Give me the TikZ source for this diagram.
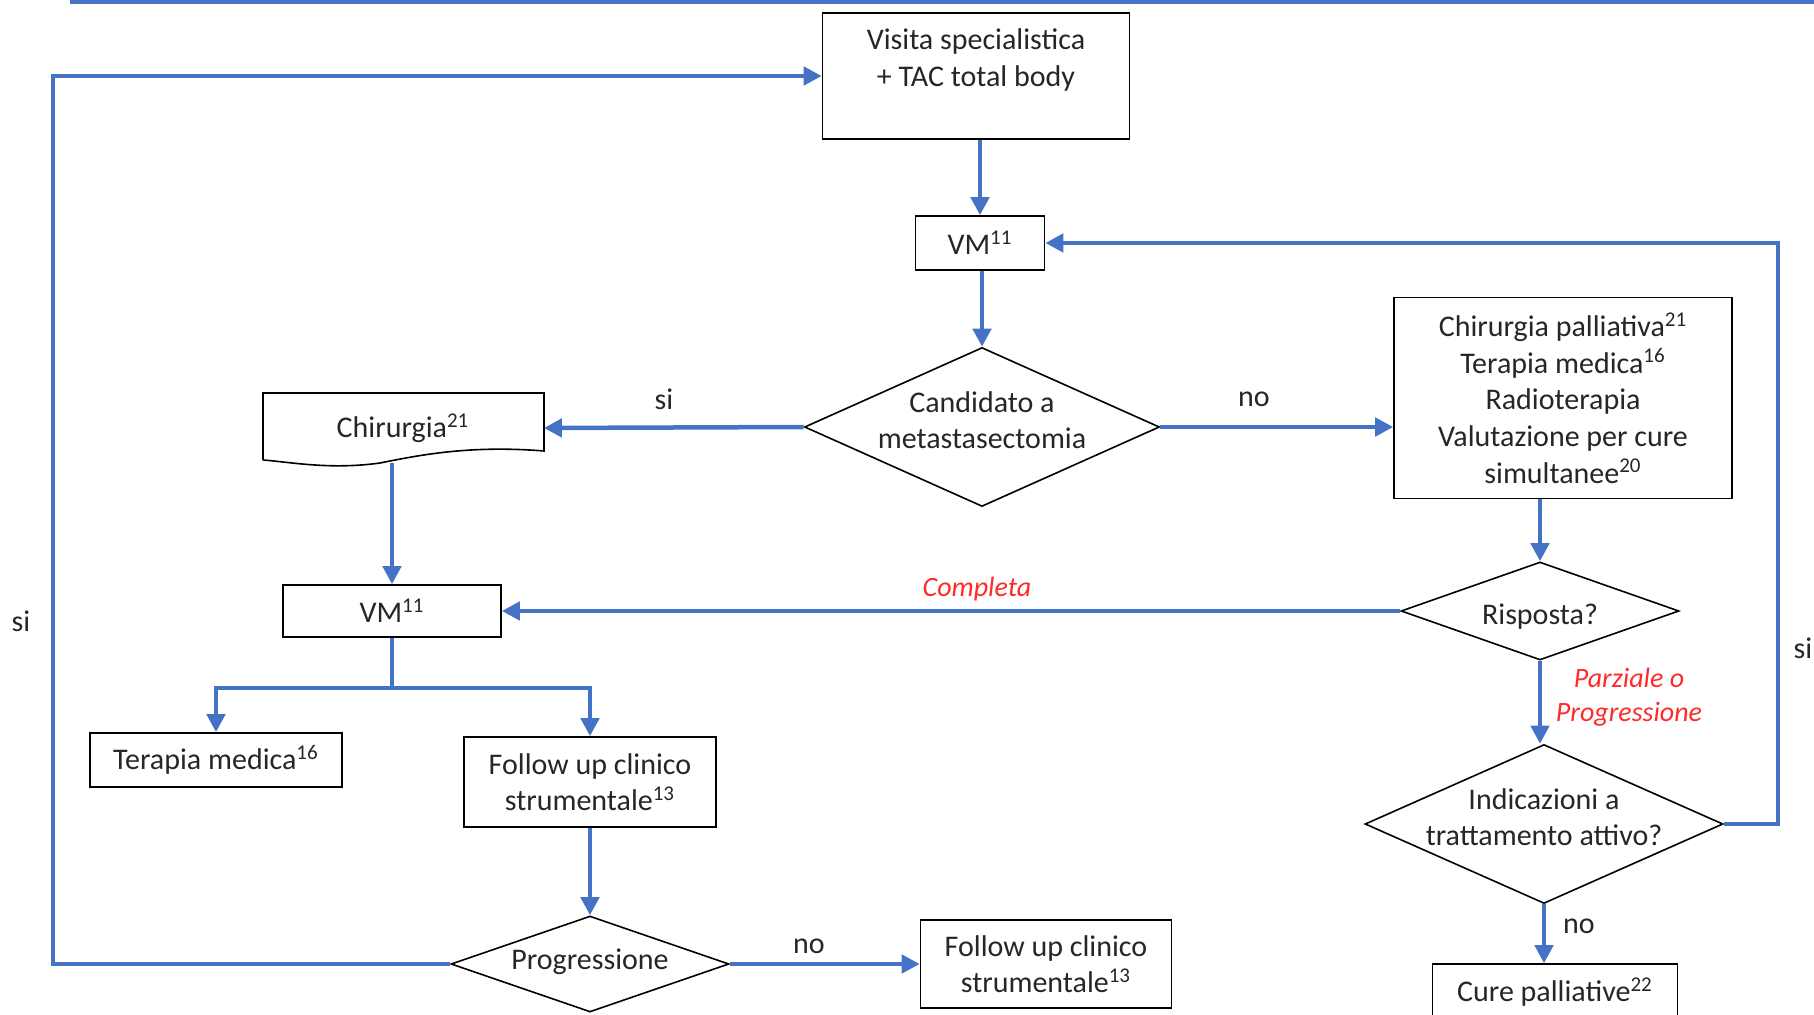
\documentclass[tikz,border=0pt]{standalone}
\usepackage{fontspec}
\setmainfont{Carlito}
\usepackage{xcolor}
\usetikzlibrary{shapes.geometric}
\usetikzlibrary{arrows.meta}
\usetikzlibrary{calc}

\definecolor{flowblue}{HTML}{4472C4}
\definecolor{labred}{HTML}{FF2A2A}
\definecolor{txt}{HTML}{262626}

\tikzset{
	box/.style={draw=black,line width=0.8pt,align=center,inner sep=0pt,text=txt,
		font=\fontsize{15}{18.3}\selectfont},
	rombo/.style 2 args={draw=black,line width=0.8pt,diamond,inner sep=0pt,
		label={[text=txt,align=center,inner sep=0pt,yshift=#2,font=\fontsize{15}{18.3}\selectfont]center:#1}},
	flow/.style={draw=flowblue,line width=2.25pt,-{Triangle[length=9pt,width=9pt]}},
	flowline/.style={draw=flowblue,line width=2.25pt},
	lab/.style={text=txt,font=\fontsize{15}{18}\selectfont,inner sep=0pt},
	esito/.style={text=labred,font=\fontsize{14}{17}\selectfont\itshape,align=center,inner sep=0pt}
}

\begin{document}
\begin{tikzpicture}[x=0.5pt,y=-0.5pt]
		\useasboundingbox (0,0) rectangle (1814,1015);
		\draw[flowline] (70,1.5)--(1814,1.5);

		%colonna centrale
		\node[box,minimum width=153.5pt,minimum height=63pt] (V) at (976,76)
			{Visita specialistica\\+ TAC total body\\\mbox{}};
		\node[box,minimum width=64.5pt,minimum height=27pt] (VM) at (980,243) {VM\textsuperscript{11}};
		\node[rombo={Candidato a\\metastasectomia}{3.5pt},minimum width=177.5pt,minimum height=79.5pt] (C) at (982,427) {};

		%ramo sinistro
		\node[text=txt,font=\fontsize{15}{18.3}\selectfont,minimum width=140.5pt,minimum height=35pt,inner sep=0pt] (Ch) at (403,428) {Chirurgia\textsuperscript{21}};
		\draw[line width=0.8pt] (263,460)--(263,393)--(544,393)--(544,451)
			.. controls (470,445) and (420,455) .. (380,463)
			.. controls (330,470) and (290,462) .. (263,460);
		\node[box,minimum width=109pt,minimum height=26pt] (VMb) at (392,611) {VM\textsuperscript{11}};
		\coordinate (S) at (392,688);
		\node[box,minimum width=126pt,minimum height=27pt] (T) at (216,760) {Terapia medica\textsuperscript{16}};
		\node[box,minimum width=126pt,minimum height=45pt] (F) at (590,782) {Follow up clinico\\strumentale\textsuperscript{13}};
		\node[rombo={Progressione}{1pt},minimum width=139pt,minimum height=48pt] (P) at (590,964) {};
		\node[box,minimum width=125.5pt,minimum height=44pt] (Fb) at (1046,964) {Follow up clinico\\strumentale\textsuperscript{13}};
		\coordinate (PL) at (53,964);

		%ramo destro
		\node[box,minimum width=169pt,minimum height=100.5pt] (R) at (1563,398)
			{Chirurgia palliativa\textsuperscript{21}\\Terapia medica\textsuperscript{16}\\Radioterapia\\Valutazione per cure\\simultanee\textsuperscript{20}};
		\node[rombo={Risposta?}{-3pt},minimum width=139pt,minimum height=49pt] (Ri) at (1540,611) {};
		\node[rombo={Indicazioni a\\trattamento attivo?}{3.5pt},minimum width=179pt,minimum height=79.5pt] (I) at (1544,824) {};
		\node[box,minimum width=122.5pt,minimum height=28pt] (CP) at (1555,992) {Cure palliative\textsuperscript{22}};
		\coordinate (IR) at (1778,824);

		%frecce
		\draw[flow] (V.south -| VM.north)--(VM.north);
		\draw[flow] (VM.south -| C.north)--(C.north);
		\draw[flow] (C.west)--(Ch.east);
		\draw[flow] (C.east)--(C.east -| R.west);
		\draw[flow] (Ch.south -| VMb.north)--(VMb.north);
		\draw[flowline] (VMb.south)--(S);
		\draw[flow] (S) -| (T.north);
		\draw[flow] (S) -| (F.north);
		\draw[flow] (F.south -| P.north)--(P.north);
		\draw[flow] (P.east)--(Fb.west);
		\draw[flow] (P.west)--(PL) |- (V.west);
		\draw[flow] (R.south -| Ri.north)--(Ri.north);
		\draw[flow] (Ri.west)--(VMb.east);
		\draw[flow] (Ri.south)--(Ri.south |- I.north);
		\draw[flow] (I.east)--(IR) |- (VM.east);
		\draw[flow] (I.south)--(I.south |- CP.north);

		%etichette
		\node[lab] (si1) at (664,399) {si};
		\node[lab] (no1) at (1254,399) {no};
		\node[lab] (si2) at (21,621) {si};
		\node[lab] (si3) at (1803,648) {si};
		\node[lab] (no2) at (809,946) {no};
		\node[lab] (no3) at (1579,926) {no};
		\node[esito] (comp) at (977,589) {Completa};
		\node[esito] (parz) at (1629,697) {Parziale o\\Progressione};
\end{tikzpicture}
\end{document}
